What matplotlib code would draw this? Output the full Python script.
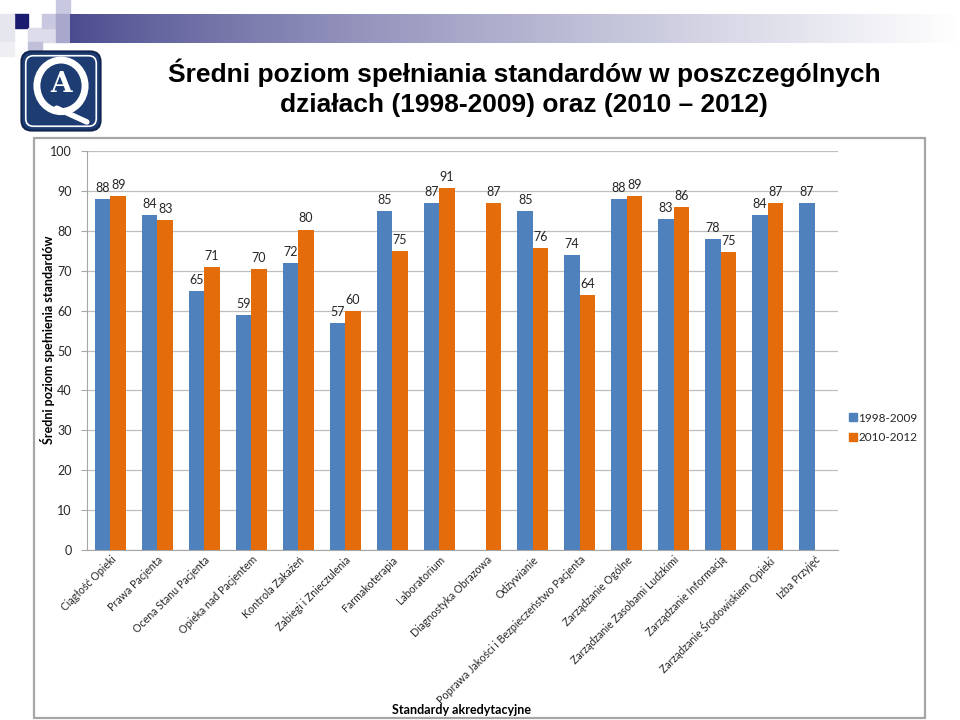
import numpy as np
import matplotlib
matplotlib.use('Agg')
import matplotlib.pyplot as plt
from matplotlib.patches import Rectangle, FancyBboxPatch, Ellipse
from matplotlib.lines import Line2D

# data
categories = ['Ciągłość Opieki', 'Prawa Pacjenta', 'Ocena Stanu Pacjenta',
              'Opieka nad Pacjentem', 'Kontrola Zakażeń', 'Zabiegi i Znieczulenia',
              'Farmakoterapia', 'Laboratorium', 'Diagnostyka Obrazowa', 'Odżywianie',
              'Poprawa Jakości i Bezpieczeństwo Pacjenta', 'Zarządzanie Ogólne',
              'Zarządzanie Zasobami Ludzkimi', 'Zarządzanie Informacją',
              'Zarządzanie Środowiskiem Opieki', 'Izba Przyjęć']
series_names = ['1998-2009', '2010-2012']
vals_old = [88.0, 84.0, 64.9, 58.9, 71.9, 56.9, 85.0, 87.0, np.nan, 85.0,
            73.9, 88.0, 82.9, 77.9, 83.9, 87.0]
vals_new = [88.6, 82.7, 70.9, 70.4, 80.3, 59.9, 74.9, 90.7, 87.0, 75.7,
            63.9, 88.6, 86.0, 74.6, 87.0, np.nan]
yticks = list(range(0, 101, 10))

title = 'Średni poziom spełniania standardów w poszczególnych\ndziałach (1998-2009) oraz (2010 – 2012)'
ylabel = 'Średni poziom spełnienia standardów'
xlabel = 'Standardy akredytacyjne'

blue = '#4f81bd'
orange = '#e46c0a'
txt = '#262626'
font = ['Lato', 'DejaVu Sans']

W, H = 960, 720
fig = plt.figure(figsize=(9.6, 7.2), dpi=100)
fig.patch.set_facecolor('white')

def px(x, y, w, h):
    # pixel box (top-left origin) -> figure fraction
    return (x / W, 1 - (y + h) / H, w / W, h / H)

# decorative squares top-left
squares = [((14, 14), '#1a1a6e'), ((0, 14), '#e6e6ee'), ((0, 28), '#e6e6ee'),
           ((0, 42), '#eeeef3'), ((28, 28), '#dcdcea'), ((42, 28), '#dcdcea'),
           ((42, 14), '#c8c8e0'), ((56, 0), '#c8c8e0'), ((56, 14), '#a8a8cc'),
           ((56, 28), '#a8a8cc'), ((28, 42), '#c0c0d8')]
for (sx, sy), c in squares:
    fig.patches.append(Rectangle(px(sx, sy, 14, 14)[:2], 14 / W, 14 / H,
                                 transform=fig.transFigure, color=c, zorder=-2))

# gradient band
grad = np.linspace(0, 1, 256).reshape(1, -1)
gax = fig.add_axes(px(70, 14, 890, 29))
c0 = np.array([0.29, 0.29, 0.56])
c1 = np.array([1.0, 1.0, 1.0])
img = c0[None, None, :] * (1 - grad[..., None] ** 0.8) + c1[None, None, :] * grad[..., None] ** 0.8
gax.imshow(img, aspect='auto', extent=[0, 1, 0, 1])
gax.axis('off')

# logo
lax = fig.add_axes(px(18, 48, 86, 86))
lax.set_xlim(0, 1)
lax.set_ylim(0, 1)
lax.axis('off')
lax.add_patch(FancyBboxPatch((0.04, 0.04), 0.92, 0.92, boxstyle='round,pad=0,rounding_size=0.12',
                             fc='#1d3c72', ec='#10254d', lw=1.5))
lax.add_patch(FancyBboxPatch((0.09, 0.09), 0.82, 0.82, boxstyle='round,pad=0,rounding_size=0.09',
                             fc='none', ec='white', lw=1.2))
lax.add_patch(Ellipse((0.5, 0.56), 0.56, 0.6, fc='none', ec='white', lw=5))
lax.plot([0.45, 0.8], [0.3, 0.14], color='white', lw=4, solid_capstyle='round')
lax.text(0.5, 0.57, 'A', color='white', fontsize=20, family='DejaVu Serif',
         ha='center', va='center', fontweight='bold')

# title
fig.text(524 / W, 1 - 88 / H, title, ha='center', va='center', fontsize=19,
         fontweight='bold', family=['Liberation Sans Narrow', 'Liberation Sans', 'DejaVu Sans'],
         linespacing=1.32, color='black')

# chart frame
fig.patches.append(Rectangle(px(34, 138, 891, 580)[:2], 891 / W, 580 / H,
                             transform=fig.transFigure, fc='white', ec='#a6a6a6', lw=1.6, zorder=-1))

ax = fig.add_axes(px(87, 151, 751, 399))
ax.set_zorder(2)
ax.patch.set_alpha(0)
x = np.arange(len(categories))
bw = 0.33
b1 = ax.bar(x - bw / 2, vals_old, bw, color=blue, zorder=3, label=series_names[0])
b2 = ax.bar(x + bw / 2, vals_new, bw, color=orange, zorder=3, label=series_names[1])
for bars, vals in ((b1, vals_old), (b2, vals_new)):
    for rect, v in zip(bars, vals):
        if np.isnan(v):
            continue
        ax.text(rect.get_x() + rect.get_width() / 2, v + 1.3, '%d' % round(v),
                ha='center', va='bottom', fontsize=9, family=font, color=txt)

ax.set_xlim(-0.5, len(categories) - 0.5)
ax.set_ylim(0, 100)
ax.set_yticks(yticks)
ax.yaxis.grid(True, color='#bfbfbf', lw=0.9, zorder=0)
ax.set_axisbelow(True)
for s in ('top', 'right'):
    ax.spines[s].set_visible(False)
for s in ('left', 'bottom'):
    ax.spines[s].set_color('#a6a6a6')
ax.tick_params(axis='y', length=4, color='#a6a6a6', labelsize=9, labelcolor=txt, pad=7)
ax.tick_params(axis='x', length=0, pad=3)
for lab in ax.get_yticklabels():
    lab.set_family(font)
ax.set_xticks(x)
ax.set_xticklabels(categories, rotation=45, ha='right', rotation_mode='anchor',
                   fontsize=7.7, family=font, color=txt)

ax.set_ylabel(ylabel, fontsize=9, fontweight='bold', family=font, color='black')
ax.yaxis.set_label_coords(-0.042, 0.526)
fig.text(462 / W, 1 - 710 / H, xlabel, ha='center', va='center', fontsize=9,
         fontweight='bold', family=font, color='black')

handles = [Line2D([], [], marker='s', ls='', color=blue, markersize=5.5),
           Line2D([], [], marker='s', ls='', color=orange, markersize=5.5)]
fig.legend(handles, series_names, loc='center left', bbox_to_anchor=(836 / W, 1 - 428 / H),
           frameon=False, prop={'family': font, 'size': 8.5}, handletextpad=0.0,
           handlelength=1.0, labelspacing=0.75, labelcolor=txt)

fig.savefig('out.png', dpi=100, facecolor='white')
